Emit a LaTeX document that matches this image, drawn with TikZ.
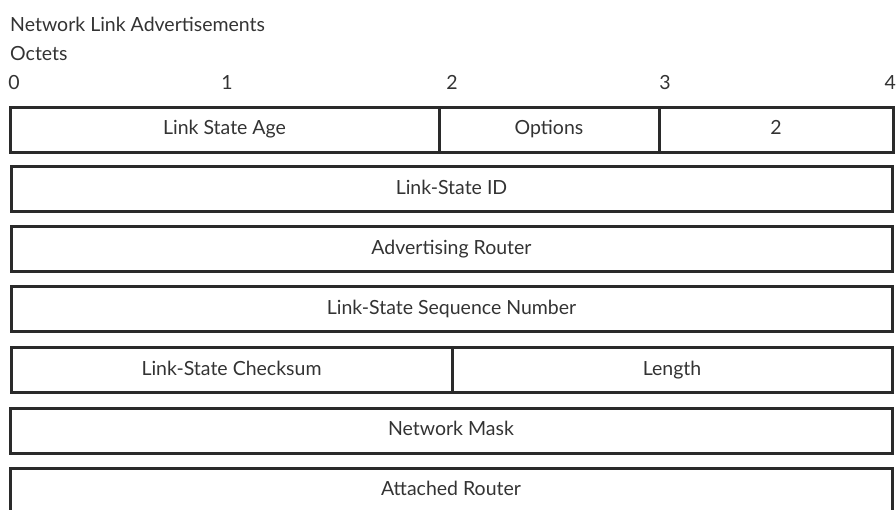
\documentclass[tikz,border=0pt]{standalone}
\usepackage{fontspec}
\setmainfont{Lato}
\definecolor{ink}{HTML}{2A2A2A}
\definecolor{txt}{HTML}{333333}
\tikzset{
  field/.style={draw=ink, line width=3pt, rectangle, inner sep=0pt, minimum height=45pt, text=txt, text height=14pt, text depth=4pt, font=\fontsize{19.5}{23}\selectfont},
  lbl/.style={text=txt, inner sep=0pt, text height=14pt, text depth=4pt, font=\fontsize{19.5}{23}\selectfont}
}
\begin{document}
\begin{tikzpicture}[x=1pt,y=-1pt]
\useasboundingbox (0,0) rectangle (896,509);
\node[lbl, anchor=west] (title) at (10,26) {Network Link Advertisements};
\node[lbl, anchor=west] (oct) at (10,55) {Octets};
\node[lbl] (o0) at (14,84) {0};
\node[lbl] (o1) at (227,84) {1};
\node[lbl] (o2) at (452,84) {2};
\node[lbl] (o3) at (665,84) {3};
\node[lbl, anchor=east] (o4) at (896,84) {4};
% row 1
\node[field, minimum width=429pt] (age) at (224.5,129.5) {Link State Age};
\node[field, minimum width=220pt] (opt) at (549,129.5) {Options};
\node[field, minimum width=234pt] (typ) at (776,129.5) {2};
% full rows
\node[field, minimum width=881pt] (lsid) at (451.5,189) {Link-State ID};
\node[field, minimum width=881pt] (adv) at (451.5,249) {Advertising Router};
\node[field, minimum width=881pt] (seq) at (451.5,309) {Link-State Sequence Number};
\node[field, minimum width=441pt] (chk) at (231.5,370) {Link-State Checksum};
\node[field, minimum width=440pt] (len) at (672,370) {Length};
\node[field, minimum width=882pt] (mask) at (451,430.5) {Network Mask};
\node[field, minimum width=882pt] (att) at (451,490.5) {Attached Router};
\end{tikzpicture}
\end{document}
